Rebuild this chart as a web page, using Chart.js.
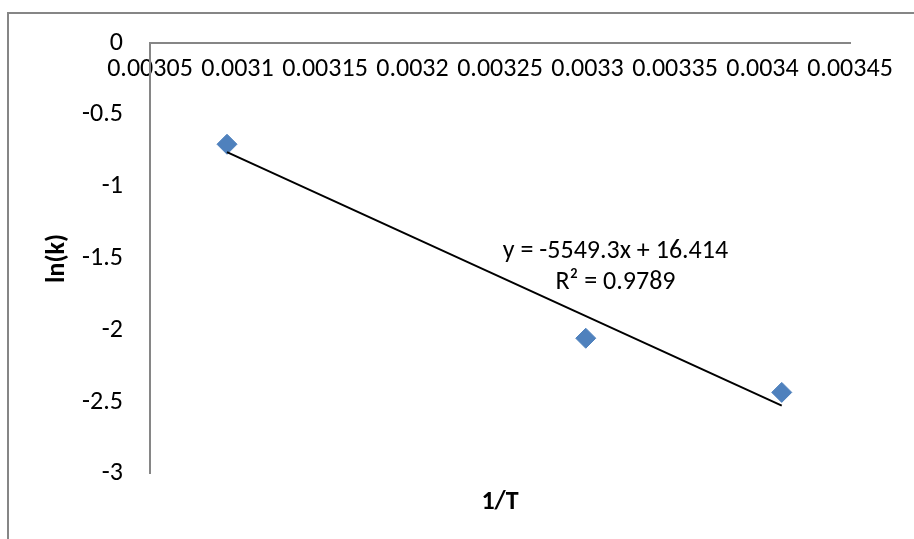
<!DOCTYPE html>
<html>
<head>
<meta charset="utf-8">
<script src="https://cdn.jsdelivr.net/npm/chart.js@4/dist/chart.umd.min.js"></script>
<style>
  html, body { margin: 0; padding: 0; background: #fff; overflow: hidden; }
  #js--frame { position: absolute; left: 7px; top: 12px; width: 1000px; height: 1000px; border: 2px solid #868686; }
  #js--chart { position: absolute; left: 0; top: 0; }
</style>
</head>
<body>
<div id="js--frame"></div>
<canvas id="js--chart" width="914" height="539"></canvas>
<script>
// data
const invT = [0.003094, 0.003299, 0.003411];
const lnK = [-0.705, -2.056, -2.433];

// trendline ends (Excel linear fit)
const trendX = [0.003094, 0.003411];
const trendY = [-0.76, -2.525];

const xTicks = [0.00305, 0.0031, 0.00315, 0.0032, 0.00325, 0.0033, 0.00335, 0.0034, 0.00345];
const xTickLabels = ["0.00305", "0.0031", "0.00315", "0.0032", "0.00325", "0.0033", "0.00335", "0.0034", "0.00345"];
const yTicks = [0, -0.5, -1, -1.5, -2, -2.5, -3];
const yTickLabels = ["0", "-0.5", "-1", "-1.5", "-2", "-2.5", "-3"];

const equationText = "y = -5549.3x + 16.414";
const rSquaredText = "R\u00B2 = 0.9789";
const labelX = 0.003316;
const equationY = -1.452;
const rSquaredY = -1.668;

const fontFamily = "Carlito, 'Liberation Sans Narrow', 'Liberation Sans', sans-serif";
Chart.defaults.font.family = fontFamily;
Chart.defaults.color = "#000";

const pointData = invT.map(function (x, i) {
    return { x: x, y: lnK[i] };
});
const trendData = trendX.map(function (x, i) {
    return { x: x, y: trendY[i] };
});

// draws the trendline equation like excel does
const equationLabel = {
    id: "equationLabel",
    afterDatasetsDraw: function (chart) {
        const ctx = chart.ctx;
        const xs = chart.scales.x;
        const ys = chart.scales.y;
        ctx.save();
        ctx.font = "26px " + fontFamily;
        ctx.fillStyle = "#000";
        ctx.textAlign = "center";
        ctx.textBaseline = "middle";
        ctx.fillText(equationText, xs.getPixelForValue(labelX), ys.getPixelForValue(equationY));
        ctx.fillText(rSquaredText, xs.getPixelForValue(labelX), ys.getPixelForValue(rSquaredY));
        ctx.restore();
    }
};

const config = {
    type: "scatter",
    data: {
        datasets: [
            {
                label: "trend",
                type: "line",
                data: trendData,
                borderColor: "#000",
                borderWidth: 2,
                pointRadius: 0,
                fill: false,
                order: 0
            },
            {
                label: "ln(k)",
                data: pointData,
                pointStyle: "rectRot",
                pointRadius: 10,
                pointHoverRadius: 10,
                backgroundColor: "#4F81BD",
                borderColor: "#4F81BD",
                borderWidth: 1,
                order: 1
            }
        ]
    },
    options: {
        responsive: false,
        animation: false,
        layout: { padding: { left: 0, top: 0, right: 64, bottom: 21 } },
        plugins: {
            legend: { display: false },
            tooltip: { enabled: false },
            title: {
                display: true,
                text: "1/T",
                position: "bottom",
                fullSize: false,
                color: "#000",
                font: { size: 26, weight: "bold" },
                padding: { top: 13, bottom: 0 }
            }
        },
        scales: {
            x: {
                type: "linear",
                position: "top",
                min: 0.00305,
                max: 0.00345,
                afterBuildTicks: function (scale) {
                    scale.ticks = xTicks.map(function (v) { return { value: v }; });
                },
                afterFit: function (scale) {
                    scale.height = 43;
                },
                ticks: {
                    mirror: true,
                    padding: 11,
                    autoSkip: false,
                    maxRotation: 0,
                    minRotation: 0,
                    color: "#000",
                    font: { size: 26 },
                    callback: function (v, i) { return xTickLabels[i]; }
                },
                grid: { display: false, drawTicks: false },
                border: { color: "#868686", width: 2 }
            },
            y: {
                min: -3,
                max: 0,
                afterBuildTicks: function (scale) {
                    scale.ticks = yTicks.map(function (v) { return { value: v }; });
                },
                afterFit: function (scale) {
                    scale.width = 150;
                },
                ticks: {
                    padding: 27,
                    color: "#000",
                    font: { size: 26 },
                    callback: function (v, i) { return yTickLabels[i]; }
                },
                grid: { display: false, drawTicks: false },
                border: { color: "#868686", width: 2 },
                title: {
                    display: true,
                    text: "ln(k)",
                    color: "#000",
                    font: { size: 26, weight: "bold" },
                    padding: { top: 42, bottom: 0 }
                }
            }
        }
    },
    plugins: [equationLabel]
};

new Chart(document.getElementById("js--chart"), config);
</script>
</body>
</html>
